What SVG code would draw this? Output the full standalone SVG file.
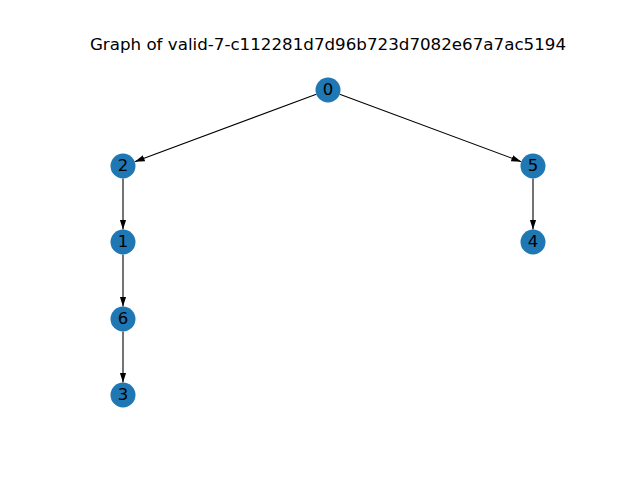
<svg xmlns="http://www.w3.org/2000/svg" width="640" height="480" viewBox="0 0 640 480">
<style>
.node circle{fill:#1f77b4;}
.node text{font-family:"DejaVu Sans",sans-serif;font-size:16.5px;fill:#000;text-anchor:middle;dominant-baseline:central;}
.edge{stroke:#000;stroke-width:1.1;fill:none;marker-end:url(#arr);}
.title{font-family:"DejaVu Sans",sans-serif;font-size:16.7px;fill:#000;text-anchor:middle;}
</style>
<defs>
<marker id="arr" markerUnits="userSpaceOnUse" markerWidth="10" markerHeight="8" refX="10" refY="3.25" orient="auto" viewBox="0 0 10 6.5">
<path d="M0,0 L10,3.25 L0,6.5 Z" fill="#000"/>
</marker>
</defs>
<rect width="640" height="480" fill="#fff"/>
<text class="title" x="328" y="49.5">Graph of valid-7-c112281d7d96b723d7082e67a7ac5194</text>
<g id="edges">
<line class="edge" x1="316.3" y1="94.3" x2="134.7" y2="161.7"/>
<line class="edge" x1="339.7" y1="94.3" x2="521.3" y2="161.7"/>
<line class="edge" x1="123" y1="178.5" x2="123" y2="229.5"/>
<line class="edge" x1="533" y1="178.5" x2="533" y2="229.5"/>
<line class="edge" x1="123" y1="254.5" x2="123" y2="306.5"/>
<line class="edge" x1="123" y1="331.5" x2="123" y2="382.5"/>
</g>
<g id="node0" class="node"><circle cx="328" cy="90" r="12.5"/><text x="328" y="89">0</text></g>
<g id="node2" class="node"><circle cx="123" cy="166" r="12.5"/><text x="123" y="165">2</text></g>
<g id="node5" class="node"><circle cx="533" cy="166" r="12.5"/><text x="533" y="165">5</text></g>
<g id="node1" class="node"><circle cx="123" cy="242" r="12.5"/><text x="123" y="241">1</text></g>
<g id="node4" class="node"><circle cx="533" cy="242" r="12.5"/><text x="533" y="241">4</text></g>
<g id="node6" class="node"><circle cx="123" cy="319" r="12.5"/><text x="123" y="318">6</text></g>
<g id="node3" class="node"><circle cx="123" cy="395" r="12.5"/><text x="123" y="394">3</text></g>
</svg>
